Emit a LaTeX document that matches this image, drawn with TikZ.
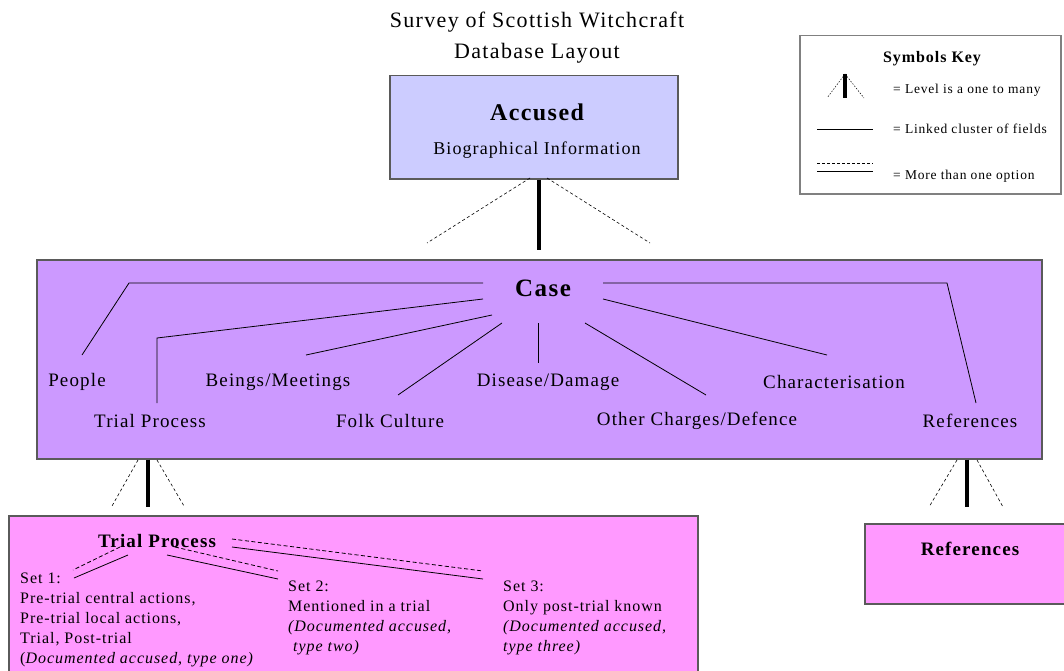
\documentclass[tikz,border=0pt]{standalone}
\usepackage{fontspec}
\setmainfont{Liberation Serif}[LetterSpace=6]
\usetikzlibrary{positioning}
\definecolor{accusedfill}{HTML}{CCCCFF}
\definecolor{casefill}{HTML}{CC99FF}
\definecolor{trialfill}{HTML}{FF99FF}
\definecolor{edgegray}{HTML}{5A5A5A}

\begin{document}
\begin{tikzpicture}[x=1pt, y=-1pt,
        box/.style={draw=edgegray, line width=1.5pt, anchor=north west},
        link/.style={line width=0.8pt},
        option/.style={line width=0.8pt, dash pattern=on 4pt off 2.5pt},
        many/.style={line width=4pt},
        fork/.style={line width=0.6pt, dash pattern=on 3pt off 2.5pt},
        keyfork/.style={line width=0.5pt, dash pattern=on 1.5pt off 1.5pt},
        field/.style={font=\fontsize{19}{22}\selectfont, inner sep=0pt},
        setlbl/.style={align=left, font=\fontsize{16}{20}\selectfont, inner sep=0pt, anchor=north west},
        keylbl/.style={font=\fontsize{13.5}{16}\selectfont, inner sep=0pt, anchor=west}]
    \useasboundingbox (0,0) rectangle (1064,671);

    % title
    \node[font=\fontsize{22}{31}\selectfont, align=center] (title) at (537,38) {Survey of Scottish Witchcraft\\Database Layout};

    % boxes
    \node[box, fill=accusedfill, minimum width=288pt, minimum height=103pt] (accused) at (389,75) {};
    \node[box, fill=casefill, minimum width=1005pt, minimum height=199pt] (case) at (36,259) {};
    \node[box, fill=trialfill, minimum width=689pt, minimum height=175pt] (trial) at (8,515) {};
    \node[box, fill=trialfill, minimum width=210pt, minimum height=80pt] (refs) at (864,523) {};
    \node[box, draw=gray, fill=white, minimum width=261pt, minimum height=158pt] (key) at (799,35) {};

    % accused
    \node[font=\bfseries\fontsize{24}{26}\selectfont] (acc-t) at (537,112) {Accused};
    \node[field, font=\fontsize{18}{20}\selectfont, below=18pt of acc-t] (bio) {Biographical Information};

    % case and its fields
    \node[font=\bfseries\fontsize{25}{27}\selectfont] (case-t) at (543,288) {Case};
    \node[field] (people) at (77,382) {People};
    \node[field] (trialf) at (150,421) {Trial Process};
    \node[field] (beings) at (278,382) {Beings/Meetings};
    \node[field] (folk) at (390,421) {Folk Culture};
    \node[field] (disease) at (548,382) {Disease/Damage};
    \node[field] (other) at (697,421) {Other Charges/Defence};
    \node[field] (charac) at (834,382) {Characterisation};
    \node[field] (refsf) at (970,421) {References};

    \coordinate (pe-a) at (483,283); \coordinate (pe-b) at (129,283); \coordinate (pe-c) at (82,355);
    \coordinate (tp-a) at (483,299); \coordinate (tp-b) at (157,338); \coordinate (tp-c) at (157,403);
    \coordinate (bm-a) at (492,315); \coordinate (bm-c) at (306,355);
    \coordinate (fc-a) at (502,323); \coordinate (fc-c) at (398,395);
    \coordinate (dd-a) at (538,323); \coordinate (dd-c) at (538,363);
    \coordinate (oc-a) at (585,323); \coordinate (oc-c) at (706,395);
    \coordinate (ch-a) at (603,299); \coordinate (ch-c) at (827,355);
    \coordinate (rf-a) at (603,283); \coordinate (rf-b) at (947,283); \coordinate (rf-c) at (976,403);

    \draw[link] (pe-a) -- (pe-b) -- (pe-c);
    \draw[link] (tp-a) -- (tp-b) -- (tp-c);
    \draw[link] (bm-a) -- (bm-c);
    \draw[link] (fc-a) -- (fc-c);
    \draw[link] (dd-a) -- (dd-c);
    \draw[link] (oc-a) -- (oc-c);
    \draw[link] (ch-a) -- (ch-c);
    \draw[link] (rf-a) -- (rf-b) -- (rf-c);

    % one to many: accused -> case
    \coordinate (ac-m) at (539,250);
    \coordinate (ac-a) at (530,178); \coordinate (ac-l) at (427,243);
    \coordinate (ac-b) at (547,178); \coordinate (ac-r) at (650,243);
    \draw[many] (accused.south -| ac-m) -- (ac-m);
    \draw[fork] (ac-a) -- (ac-l);
    \draw[fork] (ac-b) -- (ac-r);

    % one to many: case -> trial process
    \coordinate (ct-m) at (148,507);
    \coordinate (ct-a) at (138,460); \coordinate (ct-l) at (112,506);
    \coordinate (ct-b) at (157,460); \coordinate (ct-r) at (184,506);
    \draw[many] (case.south -| ct-m) -- (ct-m);
    \draw[fork] (ct-a) -- (ct-l);
    \draw[fork] (ct-b) -- (ct-r);

    % one to many: case -> references
    \coordinate (cr-m) at (967,507);
    \coordinate (cr-a) at (957,460); \coordinate (cr-l) at (929,507);
    \coordinate (cr-b) at (977,460); \coordinate (cr-r) at (1003,507);
    \draw[many] (case.south -| cr-m) -- (cr-m);
    \draw[fork] (cr-a) -- (cr-l);
    \draw[fork] (cr-b) -- (cr-r);

    % trial process
    \node[font=\bfseries\fontsize{19}{21}\selectfont] (trial-t) at (157,541) {Trial Process};
    \node[setlbl] (set1) at (20,573) {Set 1:\\Pre-trial central actions,\\Pre-trial local actions,\\Trial, Post-trial\\(\textit{Documented accused, type one)}};
    \node[setlbl] (set2) at (288,581) {Set 2:\\Mentioned in a trial\\\textit{(Documented accused,}\\\ \textit{type two)}};
    \node[setlbl] (set3) at (503,581) {Set 3:\\Only post-trial known\\\textit{(Documented accused,}\\\textit{type three)}};

    \coordinate (s1-da) at (120,547); \coordinate (s1-db) at (73,570);
    \coordinate (s1-sa) at (128,555); \coordinate (s1-sb) at (74,578);
    \coordinate (s2-da) at (175,547); \coordinate (s2-db) at (278,571);
    \coordinate (s2-sa) at (167,555); \coordinate (s2-sb) at (278,579);
    \coordinate (s3-da) at (232,539); \coordinate (s3-db) at (483,571);
    \coordinate (s3-sa) at (232,547); \coordinate (s3-sb) at (483,579);
    \draw[option] (s1-da) -- (s1-db);
    \draw[link] (s1-sa) -- (s1-sb);
    \draw[option] (s2-da) -- (s2-db);
    \draw[link] (s2-sa) -- (s2-sb);
    \draw[option] (s3-da) -- (s3-db);
    \draw[link] (s3-sa) -- (s3-sb);

    % references
    \node[font=\bfseries\fontsize{19}{21}\selectfont] (refs-t) at (970,549) {References};

    % symbols key
    \node[font=\bfseries\fontsize{16}{18}\selectfont] (key-t) at (932,59) {Symbols Key};
    \coordinate (k1-m) at (845,98); \coordinate (k1-top) at (845,74);
    \coordinate (k1-l) at (827,98); \coordinate (k1-r) at (864,98);
    \draw[many] (k1-top) -- (k1-m);
    \draw[keyfork] (k1-top) -- (k1-l);
    \draw[keyfork] (k1-top) -- (k1-r);
    \node[keylbl] (k1) at (893,90) {= Level is a one to many};
    \coordinate (k2-a) at (817,129); \coordinate (k2-b) at (873,129);
    \draw[link] (k2-a) -- (k2-b);
    \node[keylbl] (k2) at (893,129) {= Linked cluster of fields};
    \coordinate (k3-a) at (817,163); \coordinate (k3-b) at (873,163);
    \coordinate (k3-c) at (817,171); \coordinate (k3-d) at (873,171);
    \draw[option, dash pattern=on 3pt off 2pt] (k3-a) -- (k3-b);
    \draw[link] (k3-c) -- (k3-d);
    \node[keylbl] (k3) at (893,176) {= More than one option};
\end{tikzpicture}
\end{document}
